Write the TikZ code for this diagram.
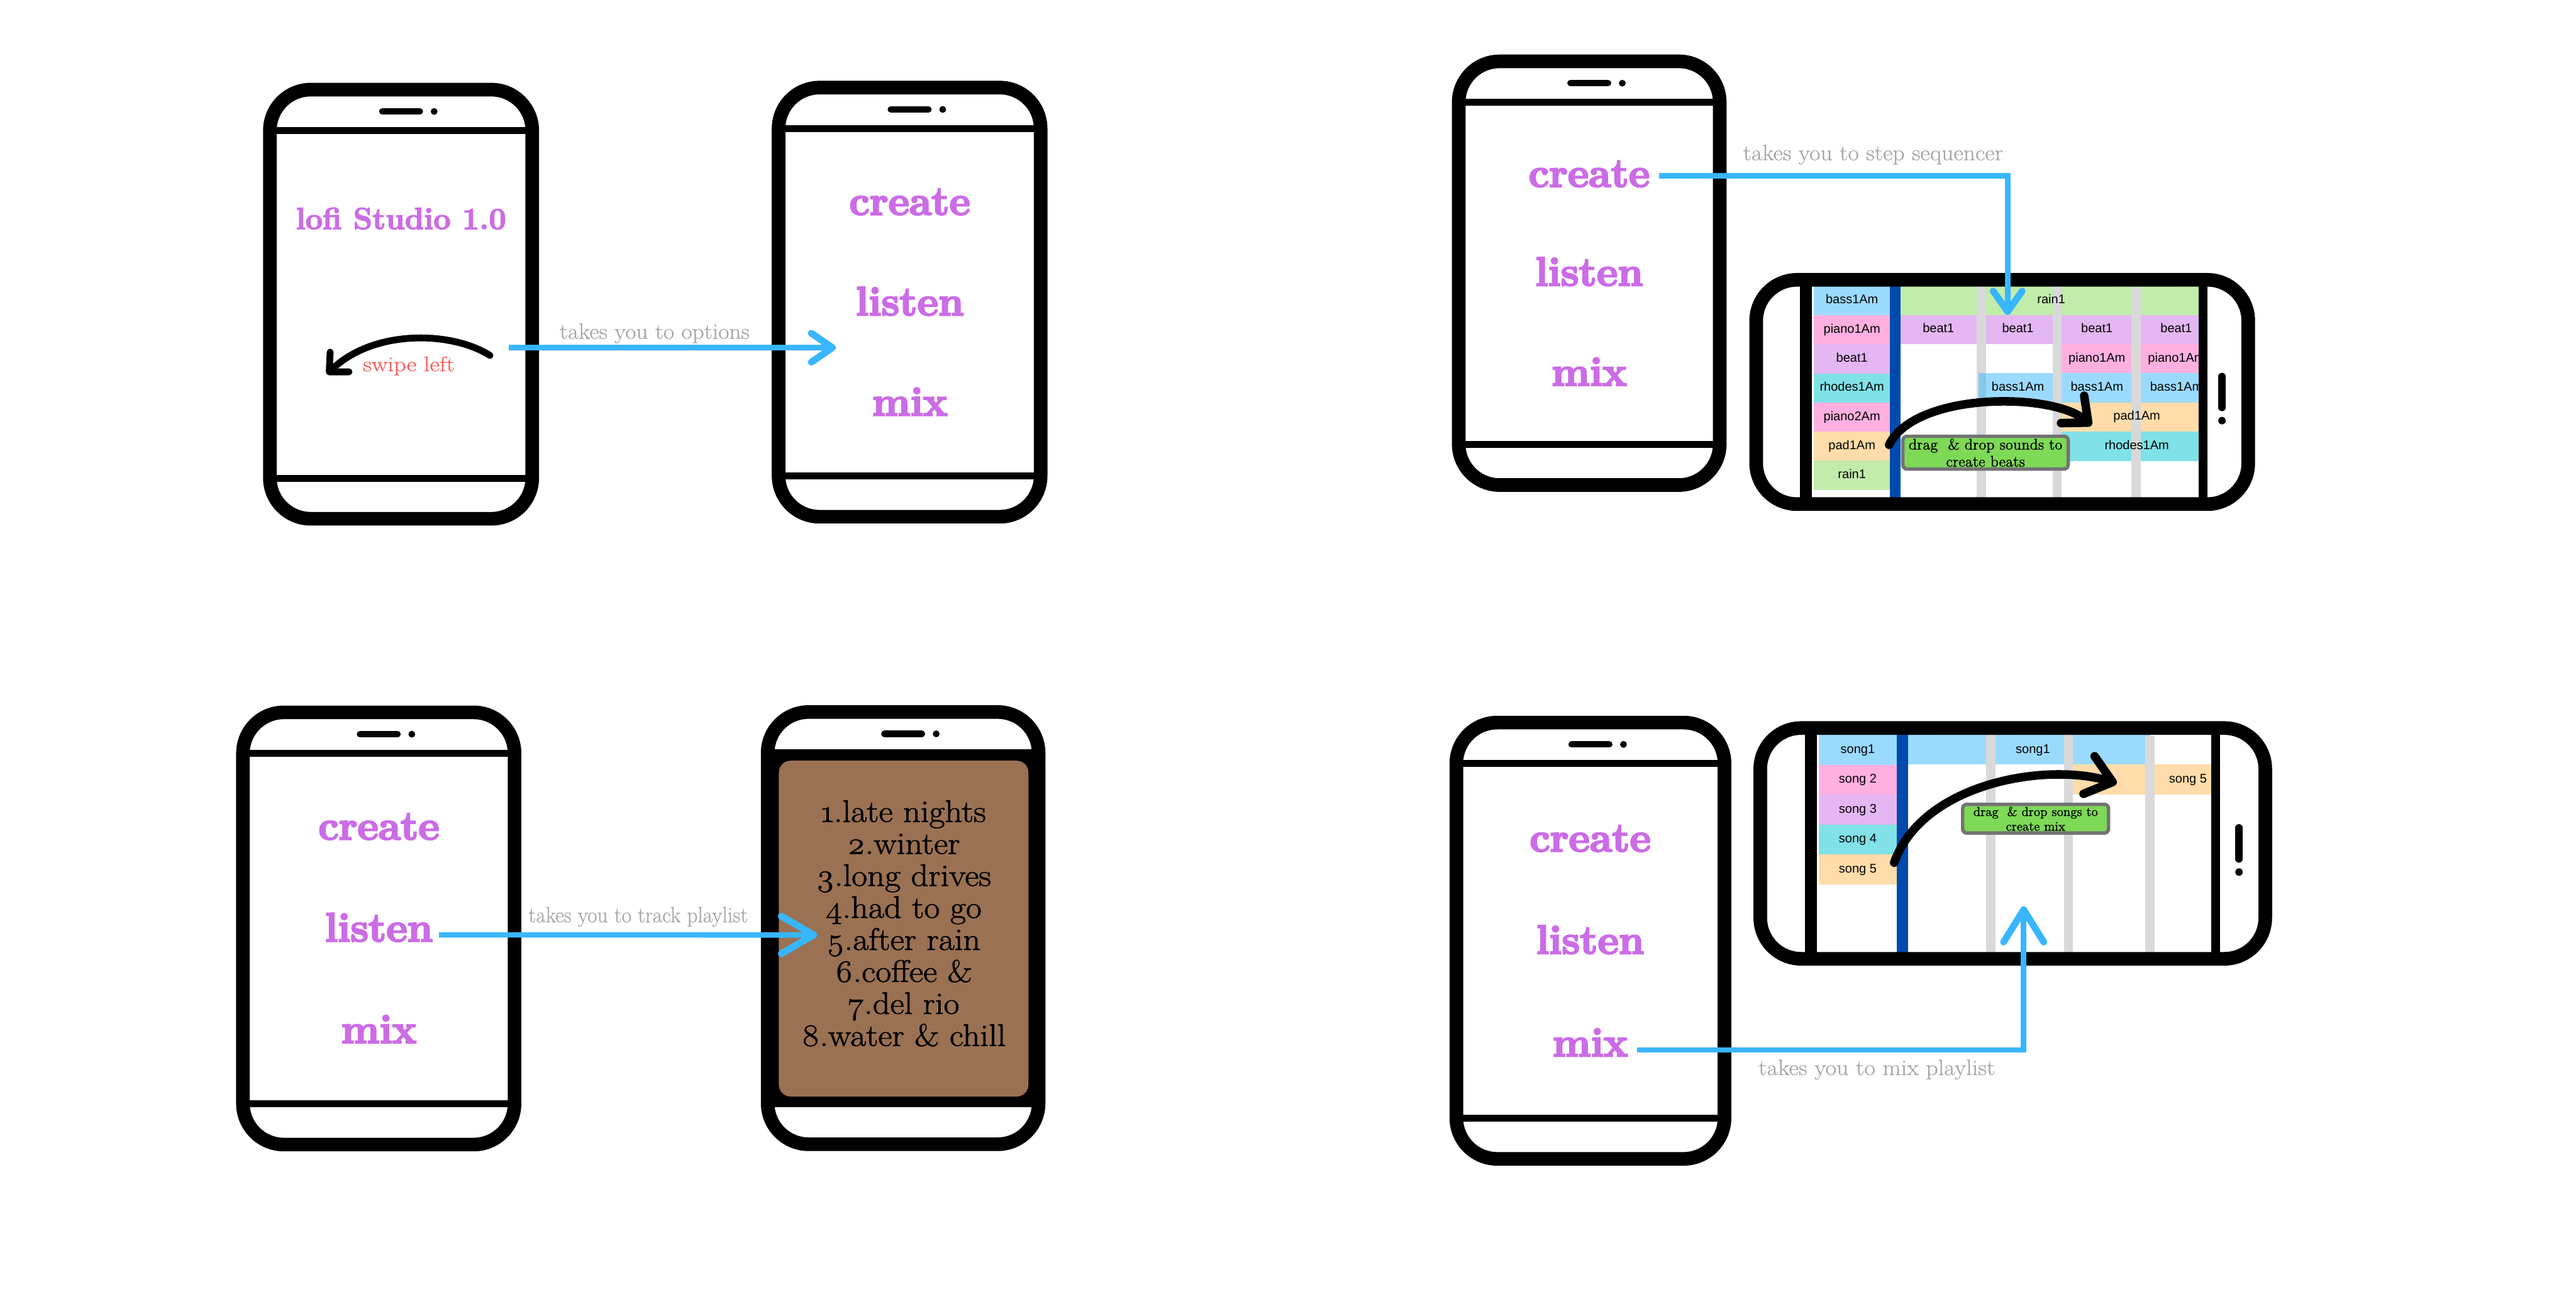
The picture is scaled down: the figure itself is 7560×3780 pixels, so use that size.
\documentclass[tikz,border=0pt]{standalone}
\usepackage{fontspec}
\usetikzlibrary{arrows.meta,calc}
\setmainfont{Latin Modern Roman}
\newfontfamily\cellfont{Liberation Sans}
\definecolor{menupurple}{HTML}{CB6CE6}
\definecolor{flowblue}{HTML}{38B6FF}
\definecolor{labelgray}{HTML}{A6A6A6}
\definecolor{swipered}{HTML}{FF5757}
\definecolor{playbrown}{HTML}{9A7153}
\definecolor{notegreen}{HTML}{7ED957}
\definecolor{notegray}{HTML}{737373}
\definecolor{barblue}{HTML}{004AAD}
\definecolor{railgray}{HTML}{D9D9D9}
\definecolor{cellblue}{HTML}{9BDAFF}
\definecolor{cellpink}{HTML}{FFB0E0}
\definecolor{cellpurple}{HTML}{E4B6F2}
\definecolor{cellteal}{HTML}{80E1E6}
\definecolor{cellpeach}{HTML}{FFDCA9}
\definecolor{cellgreen}{HTML}{C1ECAA}
\definecolor{celldark}{HTML}{85C8ED}
\tikzset{
  phonebody/.style={draw=black, line width=.4cm, rounded corners=1.2cm, inner sep=0, outer sep=0},
  phonebar/.style={draw=black, line width=.2cm},
  speaker/.style={draw=black, line width=.19cm, line cap=round},
  menuitem/.style={anchor=base, inner sep=.1cm, text=menupurple, font=\fontsize{34}{40}\selectfont\bfseries\addfontfeatures{FakeBold=4}},
  hint/.style={anchor=base, inner sep=0, text=labelgray, font=\fontsize{18.5}{22}\selectfont\addfontfeatures{FakeBold=.6,FakeStretch=#1}},
  cell/.style={inner sep=0, minimum width=#1cm, font=\cellfont\fontsize{10.5}{12}\selectfont, text height=7.6pt, text depth=2.2pt},
  celltext/.style={inner sep=0, font=\cellfont\fontsize{10.5}{12}\selectfont, text height=7.6pt, text depth=2.2pt},
  note/.style={draw=notegray, fill=notegreen, line width=.1cm, rounded corners=.12cm, inner sep=0, align=center},
  flow/.style 2 args={draw=flowblue, line width=.16cm, -{Straight Barb[length=#1cm,width=#2cm,round,line width=.2cm]}},
  drag/.style n args={3}{draw=black, line width=#3cm, line cap=round, -{Straight Barb[length=#1cm,width=#2cm,round,line width=#3cm]}},
}
\newcommand{\portraitphone}[5]{%
  \node[phonebody, minimum width=#4*.01cm, minimum height=#5*.01cm] (#1) at (#2,#3) {};
  \draw[phonebar] ([yshift=-1.2cm]#1.north west) -- ([yshift=-1.2cm]#1.north east);
  \draw[phonebar] ([yshift=1.19cm]#1.south west) -- ([yshift=1.19cm]#1.south east);
  \draw[speaker] ([xshift=-.55cm,yshift=-.64cm]#1.north) -- ([xshift=.55cm,yshift=-.64cm]#1.north);
  \fill ([xshift=.97cm,yshift=-.64cm]#1.north) circle (.1cm);
}
\newcommand{\landphone}[7]{%
  \node[phonebody, minimum width=#4*.01cm, minimum height=#5*.01cm] (#1) at (#2,#3) {};
  \draw[draw=black, line width=.35cm] ([xshift=#6cm]#1.north west) -- ([xshift=#6cm]#1.south west);
  \draw[draw=black, line width=.26cm] ([xshift=-#7cm]#1.north east) -- ([xshift=-#7cm]#1.south east);
  \draw[speaker, line width=.21cm] ([xshift=-.77cm,yshift=.46cm]#1.east) -- ([xshift=-.77cm,yshift=-.46cm]#1.east);
  \fill ([xshift=-.77cm,yshift=-.84cm]#1.east) circle (.11cm);
}
\newcommand{\menulist}[5]{%
  \node[menuitem] (#1create) at (#2,#3) {create};
  \node[menuitem] (#1listen) at (#2,#4) {listen};
  \node[menuitem] (#1mix) at (#2,#5) {mix};
}
\begin{document}
\begin{tikzpicture}[x=.01cm, y=-.01cm]
\useasboundingbox[fill=white] (0,0) rectangle (7560,3780);

% splash and options
\portraitphone{splash}{1177}{892.5}{770}{1259}
\node[anchor=base, inner sep=0, text=menupurple, font=\fontsize{25.5}{30}\selectfont\bfseries\addfontfeatures{FakeBold=3}] (title) at (1177,672) {lofi Studio 1.0};
\node[anchor=base, inner sep=0, text=swipered, font=\fontsize{17.5}{20}\selectfont\addfontfeatures{FakeBold=.6,FakeStretch=1.15}] (swipe) at (1200,1089) {swipe left};
\coordinate (swipefrom) at (1438,1043);
\coordinate (swipeto) at (959,1098);
\draw[drag={.42}{.8}{.2}] (swipefrom) .. controls (1330,973) and (1100,963) .. (swipeto);
\portraitphone{options}{2669.5}{886.5}{769}{1259}
\menulist{opt}{2670}{630}{925}{1219}
\coordinate (optout) at (1494,1020);
\coordinate (optin) at (2453,1020);
\draw[flow={.62}{.85}] (optout) -- (optin);
\node[hint=1.06] (optlabel) at (1921,994) {takes you to options};

% step sequencer
\portraitphone{seqmenu}{4664}{801.5}{766}{1243}
\menulist{seq}{4664}{548}{838}{1131}
\foreach \t/\c [count=\i from 0] in {bass1Am/cellblue,piano1Am/cellpink,beat1/cellpurple,rhodes1Am/cellteal,piano2Am/cellpink,pad1Am/cellpeach,rain1/cellgreen}
  \node[cell=2.24, minimum height=.855cm, fill=\c] (seqsrc\i) at (5435,{881.7+85.5*\i}) {\t};
\fill[cellgreen] (5577,839) rectangle (6452,924);
\fill[cellpurple] (5577,924) rectangle (6452,1010);
\fill[cellpink] (6050,1010) rectangle (6452,1095);
\fill[cellblue] (5807,1095) rectangle (6452,1181);
\fill[cellpeach] (6050,1181) rectangle (6452,1266);
\fill[cellteal] (6050,1266) rectangle (6452,1352);
\fill[barblue] (5547,839) rectangle (5577,1460);
\fill[railgray] (5801,839) rectangle (5828,1460);
\fill[railgray] (6024,839) rectangle (6050,1460);
\fill[railgray] (6255,843) rectangle (6283,1460);
\fill[celldark] (5807,1095) rectangle (5828,1181);
\fill[cellblue] (5828,1095) rectangle (6024,1181);
\foreach \t/\x/\y [count=\i] in {rain1/6020/881,beat1/5689/966,beat1/5922/966,beat1/6154/966,beat1/6387/966,piano1Am/6154/1052,piano1Am/6387/1052,bass1Am/5922/1138,bass1Am/6154/1138,bass1Am/6387/1138,pad1Am/6271/1223,rhodes1Am/6271/1309}
  \node[celltext] (seqcell\i) at (\x,\y) {\t};
\landphone{seqphone}{5876}{1150}{1444}{658}{1.46}{1.33}
\node[note, minimum width=4.85cm, minimum height=.96cm, font=\fontsize{12.8}{14.2}\selectfont\addfontfeatures{FakeBold=1.2}] (seqnote) at (5827,1328) {drag\ \ \& drop sounds to\\create beats};
\coordinate (seqfrom) at (5544,1305);
\coordinate (seqto) at (6138,1248);
\draw[drag={.6}{1.05}{.25}] (seqfrom) .. controls (5620,1150) and (6022,1150) .. (seqto);
\coordinate (seqin) at (5892,924);
\draw[flow={.6}{.85}] ([xshift=.17cm,yshift=-.05cm]seqcreate.east) -| (seqin);
\node[hint=1.07] (seqlabel) at (5497,470) {takes you to step sequencer};

% track playlist
\portraitphone{listmenu}{1111.5}{2724}{797}{1268}
\menulist{list}{1112}{2463}{2762}{3060}
\portraitphone{playlist}{2650.5}{2723}{795}{1268}
\node[fill=black, inner sep=0, minimum width=8.35cm, minimum height=10.47cm] (playback) at (2650.5,2722.5) {};
\node[fill=playbrown, inner sep=0, rounded corners=.35cm, minimum width=7.32cm, minimum height=9.85cm] (tracks) at (2652,2724.5) {};
\node[inner sep=0, align=center, font=\fontsize{26}{26.7}\selectfont\addfontfeatures{FakeBold=1.5,FakeStretch=1.1,Numbers=OldStyle}] (tracklist) at (2652,2709) {1.late nights\\2.winter\\3.long drives\\4.had to go\\5.after rain\\6.coffee \&\\7.del rio\\8.water \& chill};
\coordinate (listin) at (2398,2743);
\draw[flow={.95}{1.1}] ([xshift=.07cm,yshift=-.22cm]listlisten.east) -- (listin);
\node[hint=.95] (listlabel) at (1873,2706) {takes you to track playlist};

% mix
\portraitphone{mixmenu}{4667.5}{2760}{787}{1280}
\menulist{mix}{4667}{2498}{2798}{3099}
\foreach \t/\c [count=\i from 0] in {song1/cellblue,song 2/cellpink,song 3/cellpurple,song 4/cellteal,song 5/cellpeach}
  \node[cell=2.3, minimum height=.88cm, fill=\c] (mixsrc\i) at (5452,{2200+87.8*\i}) {\t};
\fill[cellblue] (5599,2156) rectangle (6311,2243);
\fill[cellpeach] (6084,2243) rectangle (6489,2331);
\fill[barblue] (5567,2156) rectangle (5599,2794);
\fill[railgray] (5829,2156) rectangle (5856,2794);
\fill[railgray] (6057,2156) rectangle (6084,2794);
\fill[railgray] (6295,2160) rectangle (6323,2794);
\foreach \t/\x/\y [count=\i] in {song1/5966/2200,song 5/6421/2287}
  \node[celltext] (mixcell\i) at (\x,\y) {\t};
\landphone{mixphone}{5907}{2474.5}{1482}{677}{1.48}{1.46}
\node[note, minimum width=4.28cm, minimum height=.84cm, font=\fontsize{10.8}{12.2}\selectfont\addfontfeatures{FakeBold=1.2}] (mixnote) at (5974,2402) {drag\ \ \& drop songs to\\create mix};
\coordinate (mixfrom) at (5559,2531);
\coordinate (mixto) at (6212,2298);
\draw[drag={.72}{1.15}{.25}] (mixfrom) .. controls (5640,2300) and (6000,2235) .. (mixto);
\coordinate (mixin) at (5939,2659);
\draw[flow={.95}{1.18}] ([xshift=.17cm,yshift=-.22cm]mixmix.east) -| (mixin);
\node[hint=1.08] (mixlabel) at (5508,3154) {takes you to mix playlist};
\end{tikzpicture}
\end{document}
